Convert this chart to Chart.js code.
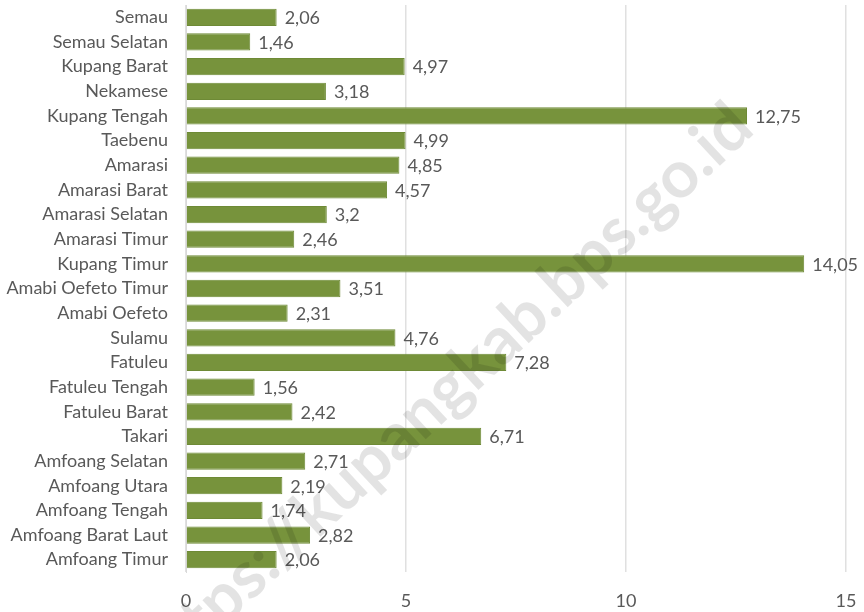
<!DOCTYPE html>
<html>
<head>
<meta charset="utf-8">
<script src="https://cdn.jsdelivr.net/npm/chart.js@4/dist/chart.umd.min.js"></script>
<style>
  html, body { margin: 0; padding: 0; background: #fff; }
  #wrap { width: 864px; height: 612px; }
</style>
</head>
<body>
<div id="wrap"><canvas id="barGraph"></canvas></div>
<script>
// kecamatan
var kecamatan = ['Semau', 'Semau Selatan', 'Kupang Barat', 'Nekamese', 'Kupang Tengah', 'Taebenu',
  'Amarasi', 'Amarasi Barat', 'Amarasi Selatan', 'Amarasi Timur', 'Kupang Timur', 'Amabi Oefeto Timur',
  'Amabi Oefeto', 'Sulamu', 'Fatuleu', 'Fatuleu Tengah', 'Fatuleu Barat', 'Takari', 'Amfoang Selatan',
  'Amfoang Utara', 'Amfoang Tengah', 'Amfoang Barat Laut', 'Amfoang Timur'];
var nilai = [2.06, 1.46, 4.97, 3.18, 12.75, 4.99, 4.85, 4.57, 3.2, 2.46, 14.05, 3.51,
  2.31, 4.76, 7.28, 1.56, 2.42, 6.71, 2.71, 2.19, 1.74, 2.82, 2.06];
var xTicks = [0, 5, 10, 15];

var fontFam = 'Lato, "Open Sans", sans-serif';

// label angka di ujung batang
var valueLabels = {
  id: 'valueLabels',
  afterDatasetsDraw: function(chart) {
    var ctx = chart.ctx;
    var meta = chart.getDatasetMeta(0);
    ctx.save();
    ctx.font = '18px ' + fontFam;
    ctx.fillStyle = '#595959';
    ctx.textBaseline = 'middle';
    ctx.textAlign = 'left';
    meta.data.forEach(function(bar, i) {
      ctx.fillText(String(nilai[i]).replace('.', ','), bar.x + 8, bar.y + 1);
    });
    ctx.restore();
  }
};

// watermark, huruf k dari "kupang" di sekitar (316,512)
var watermark = {
  id: 'watermark',
  afterDraw: function(chart) {
    var ctx = chart.ctx;
    var ang = -42.9 * Math.PI / 180;
    ctx.save();
    ctx.font = 'bold 66px ' + fontFam;
    var off = ctx.measureText('https://').width + ctx.measureText('k').width / 2;
    ctx.translate(316 - off * Math.cos(ang), 512 - off * Math.sin(ang));
    ctx.rotate(ang);
    ctx.fillStyle = 'rgba(0,0,0,0.11)';
    ctx.textAlign = 'left';
    ctx.textBaseline = 'middle';
    ctx.fillText('https://kupangkab.bps.go.id', 0, 0);
    ctx.restore();
  }
};

new Chart(document.getElementById('barGraph'), {
  type: 'bar',
  data: {
    labels: kecamatan,
    datasets: [{
      label: 'Nilai',
      data: nilai,
      backgroundColor: '#77933c',
      borderColor: '#6e8a36',
      borderWidth: 1,
      categoryPercentage: 0.7,
      barPercentage: 1
    }]
  },
  options: {
    indexAxis: 'y',
    responsive: true,
    maintainAspectRatio: false,
    animation: false,
    layout: { padding: { top: 5, right: 18, bottom: 0, left: 6 } },
    plugins: {
      legend: { display: false },
      tooltip: { enabled: false }
    },
    scales: {
      x: {
        min: 0,
        max: 15,
        afterBuildTicks: function(axis) {
          axis.ticks = xTicks.map(function(v) { return { value: v }; });
        },
        afterFit: function(scale) {
          scale.height = 40;
          scale.paddingLeft = 0;
          scale.paddingRight = 0;
        },
        grid: { color: '#e0e0e0', lineWidth: 1.5, drawTicks: false },
        border: { display: false },
        ticks: { color: '#595959', font: { family: fontFam, size: 18 }, padding: 18 }
      },
      y: {
        afterFit: function(scale) {
          scale.width = 180;
          scale.paddingTop = 0;
          scale.paddingBottom = 0;
        },
        grid: { display: false, drawTicks: false },
        border: { color: '#d9d9d9', width: 1 },
        ticks: { color: '#595959', font: { family: fontFam, size: 18 }, padding: 18, autoSkip: false }
      }
    }
  },
  plugins: [valueLabels, watermark]
});
</script>
</body>
</html>
